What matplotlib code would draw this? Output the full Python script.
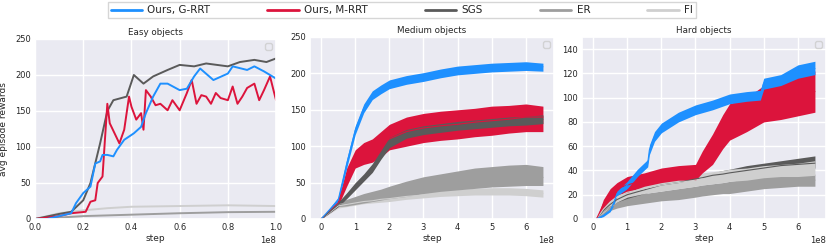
import numpy as np
import matplotlib
matplotlib.use("Agg")
import matplotlib.pyplot as plt
import seaborn as sns

sns.set_theme(style="darkgrid")
plt.rcParams['font.family'] = ['DejaVu Sans']

labels = ["Ours, G-RRT", "Ours, M-RRT", "SGS", "ER", "FI"]
colors = ["#1e90ff", "#dc143c", "#5a5a5a", "#9e9e9e", "#cfcfcf"]

# ---------------- Easy objects (x in units of 1e8 steps) ----------------
easy_blue_x = [0.0, 0.05, 0.10, 0.15, 0.17, 0.20, 0.23, 0.25, 0.27, 0.28, 0.30, 0.325, 0.34, 0.37,
               0.41, 0.44, 0.46, 0.49, 0.52, 0.55, 0.60, 0.63, 0.66, 0.685, 0.74, 0.80, 0.82,
               0.88, 0.91, 0.95, 1.0]
easy_blue_y = [0, 0, 4, 8, 22, 36, 45, 77, 80, 89, 89, 87, 96, 110,
               119, 128, 147, 170, 188, 188, 179, 181, 198, 209, 193, 202, 212,
               207, 212, 205, 195]
easy_red_x = [0.0, 0.10, 0.15, 0.21, 0.23, 0.25, 0.26, 0.28, 0.29, 0.30, 0.31, 0.33, 0.35, 0.37,
              0.39, 0.40, 0.42, 0.44, 0.45, 0.46, 0.48, 0.50, 0.52, 0.55, 0.57, 0.60, 0.63,
              0.65, 0.67, 0.69, 0.71, 0.73, 0.75, 0.77, 0.80, 0.82, 0.84, 0.86, 0.88, 0.91,
              0.93, 0.95, 0.975, 0.99, 1.0]
easy_red_y = [0, 4, 8, 10, 24, 26, 50, 59, 110, 160, 133, 119, 105, 124,
              170, 156, 138, 147, 124, 179, 170, 158, 160, 151, 165, 151, 175,
              193, 160, 172, 170, 160, 175, 168, 165, 184, 160, 170, 182, 188,
              165, 179, 198, 178, 165]
easy_sgs_x = [0.0, 0.10, 0.15, 0.20, 0.23, 0.27, 0.30, 0.325, 0.38, 0.41, 0.45, 0.49, 0.55, 0.60,
              0.66, 0.71, 0.80, 0.85, 0.91, 0.96, 1.0]
easy_sgs_y = [0, 7, 10, 26, 50, 105, 150, 165, 170, 200, 188, 198, 207, 214,
              212, 216, 212, 218, 221, 218, 223]
easy_er_x = [0.0, 0.2, 0.4, 0.6, 0.8, 1.0]
easy_er_y = [0, 4, 6, 8, 9.5, 10]
easy_fi_x = [0.0, 0.1, 0.2, 0.3, 0.4, 0.6, 0.8, 1.0]
easy_fi_y = [0, 8, 12, 15, 17, 18, 19, 18]

# ---------------- Medium objects (x in units of 1e8 steps) ----------------
med_x = [0.0, 0.5, 0.75, 1.0, 1.25, 1.5, 1.75, 2.0, 2.5, 3.0, 3.5, 4.0, 4.5, 5.0, 5.5, 6.0, 6.5]
med_blue = [0, 26, 76, 122, 152, 170, 178, 185, 191, 195, 200, 204, 206, 208, 209, 210, 209]
med_blue_lo = [0, 22, 70, 116, 146, 164, 172, 179, 185, 189, 194, 198, 200, 202, 203, 204, 203]
med_blue_hi = [0, 30, 82, 128, 158, 176, 184, 191, 197, 201, 206, 210, 212, 214, 215, 216, 214]
med_red = [0, 22, 58, 82, 90, 95, 102, 110, 120, 125, 128, 130, 133, 135, 137, 140, 140]
med_red_lo = [0, 18, 45, 70, 75, 78, 85, 95, 100, 105, 108, 110, 113, 115, 118, 120, 120]
med_red_hi = [0, 26, 70, 95, 105, 110, 120, 130, 140, 145, 148, 150, 152, 155, 156, 158, 155]
med_sgs = [0, 20, 32, 45, 57, 70, 88, 105, 117, 122, 125, 128, 130, 132, 134, 135, 137]
med_sgs_lo = [0, 17, 28, 40, 52, 64, 82, 98, 111, 116, 119, 122, 124, 126, 128, 129, 131]
med_sgs_hi = [0, 23, 36, 50, 62, 76, 94, 112, 123, 128, 131, 134, 136, 138, 140, 141, 143]
med_er = [0, 20, 22, 25, 28, 30, 32, 35, 40, 45, 48, 50, 53, 55, 56, 57, 57]
med_er_lo = [0, 17, 18, 20, 22, 24, 26, 28, 31, 35, 38, 40, 42, 44, 45, 46, 46]
med_er_hi = [0, 23, 27, 31, 35, 38, 41, 45, 52, 58, 62, 66, 70, 72, 74, 75, 72]
med_fi = [0, 18, 20, 22, 24, 25, 27, 28, 31, 33, 35, 37, 38, 38, 38, 37, 35]
med_fi_lo = [0, 15, 17, 19, 21, 22, 23, 24, 27, 29, 31, 32, 33, 33, 33, 32, 30]
med_fi_hi = [0, 21, 23, 25, 27, 29, 31, 32, 35, 37, 39, 41, 42, 43, 43, 42, 40]

# ---------------- Hard objects (x in units of 1e8 steps) ----------------
hard_blue_x = [0.1, 0.3, 0.5, 0.6, 0.7, 1.0, 1.3, 1.6, 1.65, 1.8, 2.0, 2.5, 3.0, 3.5, 4.0, 4.5,
               4.9, 5.0, 5.5, 6.0, 6.5]
hard_blue = [0, 3, 7, 13, 21, 28, 38, 46, 57, 68, 75, 84, 90, 94, 99, 101, 102, 112, 114, 121, 124]
hard_blue_lo = [0, 2, 6, 11, 19, 25, 35, 43, 53, 64, 71, 80, 86, 90, 95, 97, 98, 107, 110, 116, 119]
hard_blue_hi = [0, 4, 8, 15, 23, 31, 41, 49, 61, 72, 79, 88, 94, 98, 103, 105, 106, 116, 119, 127, 130]
hard_x = [0.1, 0.3, 0.5, 0.7, 1.0, 1.5, 2.0, 2.5, 3.0, 3.2, 3.5, 3.8, 4.0, 4.5, 5.0, 5.5, 6.0, 6.5]
hard_red = [0, 12, 20, 25, 28, 32, 35, 37, 38, 47, 58, 72, 78, 85, 95, 98, 100, 105]
hard_red_lo = [0, 8, 15, 20, 22, 27, 30, 32, 32, 38, 45, 58, 65, 72, 80, 82, 85, 88]
hard_red_hi = [0, 16, 25, 30, 35, 38, 42, 44, 45, 56, 70, 86, 95, 100, 110, 115, 118, 122]
hard_sgs = [0, 7, 12, 16, 20, 24, 28, 30, 33, 34, 36, 37, 38, 40, 42, 44, 45, 46]
hard_sgs_lo = [0, 5, 10, 14, 17, 21, 25, 27, 30, 31, 33, 34, 35, 37, 39, 40, 41, 42]
hard_sgs_hi = [0, 9, 14, 18, 22, 26, 30, 32, 35, 36, 38, 40, 41, 44, 46, 48, 50, 52]
hard_er = [0, 6, 10, 12, 15, 17, 19, 20, 22, 23, 24, 25, 26, 28, 30, 31, 32, 32]
hard_er_lo = [0, 4, 7, 9, 11, 13, 15, 16, 18, 19, 20, 21, 21, 23, 25, 26, 27, 27]
hard_er_hi = [0, 8, 13, 15, 19, 21, 23, 25, 27, 28, 29, 30, 31, 33, 35, 36, 37, 37]
hard_fi = [0, 8, 14, 18, 22, 25, 28, 30, 32, 33, 34, 35, 36, 37, 39, 40, 40, 42]
hard_fi_lo = [0, 5, 10, 14, 18, 21, 23, 25, 27, 28, 29, 30, 31, 32, 34, 35, 35, 36]
hard_fi_hi = [0, 11, 18, 22, 26, 29, 32, 35, 37, 38, 39, 40, 41, 42, 44, 45, 46, 48]

fig = plt.figure(figsize=(8.3, 2.49), dpi=100)
ax1 = fig.add_axes([0.0422, 0.1205, 0.2904, 0.7229])
ax2 = fig.add_axes([0.3735, 0.1205, 0.2940, 0.7310])
ax3 = fig.add_axes([0.7012, 0.1205, 0.2940, 0.7310])

S = 1e8
lw = 1.4

# Easy
ax1.plot(np.array(easy_fi_x) * S, easy_fi_y, color=colors[4], lw=lw)
ax1.plot(np.array(easy_er_x) * S, easy_er_y, color=colors[3], lw=lw)
ax1.plot(np.array(easy_sgs_x) * S, easy_sgs_y, color=colors[2], lw=lw)
ax1.plot(np.array(easy_red_x) * S, easy_red_y, color=colors[1], lw=lw)
ax1.plot(np.array(easy_blue_x) * S, easy_blue_y, color=colors[0], lw=lw)
ax1.set_xlim(0, 1.0e8)
ax1.set_ylim(0, 250)
ax1.set_yticks([0, 50, 100, 150, 200, 250])
ax1.set_xticks([0, 0.2e8, 0.4e8, 0.6e8, 0.8e8, 1.0e8])
ax1.set_title("Easy objects", fontsize=6.3, pad=3)
ax1.set_ylabel("avg episode rewards", fontsize=6.5)
ax1.yaxis.set_label_coords(-0.112, 0.5)

def band(ax, x, c, lo, hi, color):
    xx = np.array(x) * S
    ax.fill_between(xx, lo, hi, color=color, lw=0)
    ax.plot(xx, c, color=color, lw=0.8)

# Medium
band(ax2, med_x, med_fi, med_fi_lo, med_fi_hi, colors[4])
band(ax2, med_x, med_er, med_er_lo, med_er_hi, colors[3])
band(ax2, med_x, med_red, med_red_lo, med_red_hi, colors[1])
band(ax2, med_x, med_sgs, med_sgs_lo, med_sgs_hi, colors[2])
band(ax2, med_x, med_blue, med_blue_lo, med_blue_hi, colors[0])
ax2.set_ylim(0, 250)
ax2.set_xlim(-0.325e8, 6.825e8)
ax2.set_yticks([0, 50, 100, 150, 200, 250])
ax2.set_xticks([i * 1e8 for i in range(7)])
ax2.set_title("Medium objects", fontsize=6.3, pad=3)

# Hard
band(ax3, hard_x, hard_er, hard_er_lo, hard_er_hi, colors[3])
band(ax3, hard_x, hard_sgs, hard_sgs_lo, hard_sgs_hi, colors[2])
band(ax3, hard_x, hard_fi, hard_fi_lo, hard_fi_hi, colors[4])
band(ax3, hard_x, hard_red, hard_red_lo, hard_red_hi, colors[1])
band(ax3, hard_blue_x, hard_blue, hard_blue_lo, hard_blue_hi, colors[0])
ax3.set_ylim(0, 150)
ax3.set_xlim(-0.325e8, 6.825e8)
ax3.set_yticks([0, 20, 40, 60, 80, 100, 120, 140])
ax3.set_xticks([i * 1e8 for i in range(7)])
ax3.set_title("Hard objects", fontsize=6.3, pad=3)

for ax in (ax1, ax2, ax3):
    ax.tick_params(labelsize=6, pad=3, length=0)
    ax.set_xlabel("step", fontsize=6.5, labelpad=1)
    ax.xaxis.get_offset_text().set_fontsize(6)
    ax.legend(loc="upper right", fontsize=6)

handles = [plt.Line2D([], [], color=c, lw=2) for c in colors]
fig.legend(handles, labels, loc="upper center", bbox_to_anchor=(0.484, 1.012), ncol=5,
           fontsize=7.5, frameon=True, handlelength=3.0, columnspacing=5.5,
           borderpad=0.3, handletextpad=0.5, fancybox=False, edgecolor="#cccccc",
           facecolor="white")

fig.savefig("out.png", dpi=100)
